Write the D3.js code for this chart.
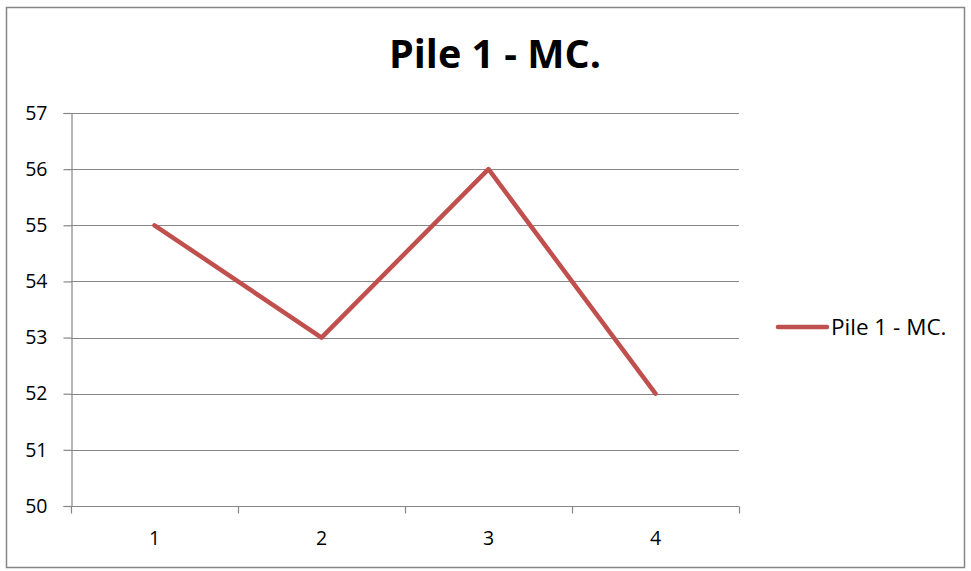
<!DOCTYPE html>
<html>
<head>
<meta charset="utf-8">
<script src="https://cdn.jsdelivr.net/npm/d3@7"></script>
<style>
  html, body { margin: 0; padding: 0; background: #fff; }
  svg { display: block; font-family: "Open Sans", "Noto Sans", sans-serif; }
</style>
</head>
<body>
<svg id="chart" width="971" height="571"></svg>
<script>
// Series data
const categories = ["1", "2", "3", "4"];
const values = [55, 53, 56, 52];
const seriesName = "Pile 1 - MC.";
const yTicks = [50, 51, 52, 53, 54, 55, 56, 57];

const svg = d3.select("#chart");

// Outer chart frame
svg.append("rect")
  .attr("x", 6.5).attr("y", 7.5)
  .attr("width", 958).attr("height", 560)
  .attr("fill", "#fff").attr("stroke", "#868686").attr("stroke-width", 1.5);

const plot = { left: 71, right: 739, top: 113, bottom: 506 };

const x = d3.scaleBand().domain(categories).range([plot.left, plot.right]);
const y = d3.scaleLinear().domain([50, 57]).range([plot.bottom, plot.top]);

// Title
svg.append("text")
  .attr("x", 495).attr("y", 68)
  .attr("text-anchor", "middle")
  .attr("font-size", 39.5).attr("font-weight", "bold")
  .attr("fill", "#000")
  .text(seriesName);

// Horizontal gridlines
svg.append("g")
  .selectAll("line")
  .data(yTicks.filter(d => d !== 50))
  .join("line")
  .attr("x1", plot.left).attr("x2", plot.right)
  .attr("y1", d => Math.round(y(d)) + 0.5).attr("y2", d => Math.round(y(d)) + 0.5)
  .attr("stroke", "#868686").attr("stroke-width", 1.2);

// Y axis
const yAxis = svg.append("g")
  .attr("transform", `translate(${plot.left + 0.5},0)`)
  .call(d3.axisLeft(y).tickValues(yTicks).tickSize(8).tickPadding(16).tickFormat(d3.format("d")));
yAxis.select(".domain").attr("stroke", "#868686").attr("stroke-width", 1.2);
yAxis.selectAll(".tick line").attr("stroke", "#868686").attr("stroke-width", 1.2);
yAxis.selectAll(".tick text")
  .attr("font-size", 19.5).attr("fill", "#000")
  .attr("font-family", "Open Sans, sans-serif");

// X axis with ticks at category boundaries
const xg = svg.append("g").attr("transform", `translate(0,${plot.bottom + 0.5})`);
xg.append("line")
  .attr("x1", plot.left).attr("x2", plot.right)
  .attr("stroke", "#868686").attr("stroke-width", 1.2);
const boundaries = categories.map(c => x(c)).concat([x(categories[categories.length - 1]) + x.bandwidth()]);
xg.selectAll("line.tk")
  .data(boundaries)
  .join("line").attr("class", "tk")
  .attr("x1", d => Math.round(d) + 0.5).attr("x2", d => Math.round(d) + 0.5)
  .attr("y1", 0).attr("y2", 7)
  .attr("stroke", "#868686").attr("stroke-width", 1.2);
xg.selectAll("text")
  .data(categories)
  .join("text")
  .attr("x", d => x(d) + x.bandwidth() / 2)
  .attr("y", 38)
  .attr("text-anchor", "middle")
  .attr("font-size", 19.5).attr("fill", "#000")
  .text(d => d);

// Series line
const line = d3.line()
  .x((d, i) => x(categories[i]) + x.bandwidth() / 2)
  .y(d => y(d));
svg.append("path")
  .datum(values)
  .attr("d", line)
  .attr("fill", "none")
  .attr("stroke", "#C0504D")
  .attr("stroke-width", 4.5)
  .attr("stroke-linejoin", "round")
  .attr("stroke-linecap", "round");

// Legend
const lg = svg.append("g").attr("transform", "translate(0,327)");
lg.append("line")
  .attr("x1", 778).attr("x2", 827)
  .attr("stroke", "#C0504D").attr("stroke-width", 4.5).attr("stroke-linecap", "round");
lg.append("text")
  .attr("x", 831).attr("y", 8)
  .attr("font-size", 22.5).attr("fill", "#000")
  .text(seriesName);
</script>
</body>
</html>
